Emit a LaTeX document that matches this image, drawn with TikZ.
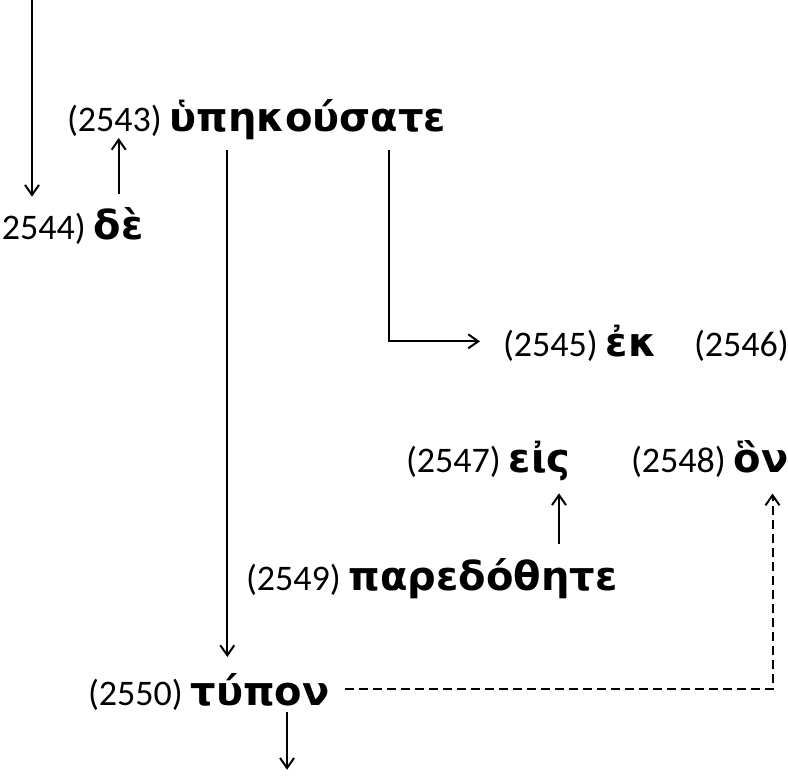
\documentclass[tikz,border=0pt]{standalone}
\usepackage{fontspec}
\setmainfont{Carlito}
\newfontfamily\grfont{DejaVu Sans}
\usetikzlibrary{arrows.meta, calc}

\begin{document}
\begin{tikzpicture}[x=1pt, y=-1pt, line width=2pt,
        >={Straight Barb[length=10pt, width=14pt]},
        num/.style={inner sep=0pt, anchor=base west, font=\fontsize{36}{40}\selectfont},
        word/.style={inner sep=0pt, anchor=base west, font=\grfont\bfseries\fontsize{40}{43}\selectfont},
        dashline/.style={dash pattern=on 9pt off 5pt}]
                \path[use as bounding box, clip] (0,0) rectangle (788,778);
                \node[num] (n2543) at (66,132) {(2543)};
                \node[word] (g2543) at ([xshift=6pt]n2543.base east) {ὑπηκούσατε};
                \node[num] (n2544) at (-10,240) {(2544)};
                \node[word] (g2544) at ([xshift=6pt]n2544.base east) {δὲ};
                \node[num] (n2545) at (502,357) {(2545)};
                \node[word] (g2545) at ([xshift=6pt]n2545.base east) {ἐκ};
                \node[num] (n2546) at (693,357) {(2546)};
                \node[num] (n2547) at (405,472) {(2547)};
                \node[word] (g2547) at ([xshift=6pt]n2547.base east) {εἰς};
                \node[num] (n2548) at (630,472) {(2548)};
                \node[word] (g2548) at ([xshift=6pt]n2548.base east) {ὃν};
                \node[num] (n2549) at (245,590) {(2549)};
                \node[word] (g2549) at ([xshift=6pt]n2549.base east) {παρεδόθητε};
                \node[num] (n2550) at (87,705) {(2550)};
                \node[word] (g2550) at ([xshift=6pt]n2550.base east) {τύπον};
                \coordinate (in2544) at (32,-5);
                \coordinate (s1) at ($(g2543.south west)!0.21!(g2543.south east)$);
                \coordinate (s2) at ($(g2543.south west)!0.79!(g2543.south east)$);
                \coordinate (s3) at ($(g2549.north west)!0.78!(g2549.north east)$);
                \coordinate (s4) at ($(g2548.south west)!0.7!(g2548.south east)$);
                \coordinate (s5) at ($(g2550.south west)!0.69!(g2550.south east)$);
                \draw[->, shorten >=16pt] (in2544) -- (in2544 |- n2544.north);
                \draw[->, shorten <=13pt] (g2544.north) -- (g2544.north |- n2543.south);
                \draw[->, shorten <=9pt, shorten >=15pt] (s1) -- (s1 |- g2550.north);
                \draw[->, shorten <=9pt, shorten >=22pt] (s2) |- ([yshift=5pt]n2545.west);
                \draw[->, shorten <=13pt, shorten >=12pt] (s3) -- (s3 |- g2547.south);
                \draw[dashline, ->, shorten <=14pt, shorten >=20pt] (g2550.east) -| (s4);
                \draw[->, shorten <=5pt] (s5) -- ++(0,63) coordinate (out2550);
            \end{tikzpicture}
\end{document}
